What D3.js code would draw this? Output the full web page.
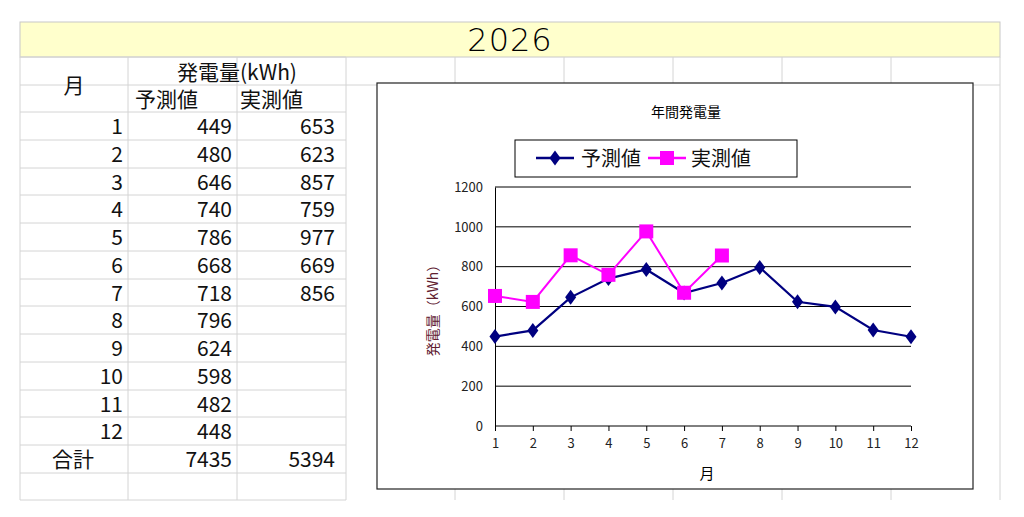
<!DOCTYPE html>
<html><head><meta charset="utf-8">
<script src="https://cdn.jsdelivr.net/npm/d3@7"></script>
<style>body{margin:0;background:#fff}svg{display:block}</style>
</head><body><svg id="c" width="1024" height="517"></svg>
<script>
const months = [1,2,3,4,5,6,7,8,9,10,11,12];
const forecast = [449,480,646,740,786,668,718,796,624,598,482,448];
const actual = [653,623,857,759,977,669,856];
const yTicks = [0,200,400,600,800,1000,1200];
const totalForecast = 7435, totalActual = 5394;
const svg = d3.select("#c");
const F = "'Noto Sans CJK JP','Noto Sans',sans-serif";
const colX = [20,128,237,346,455,564,673,782,891,1000];
const rowY = [57,85,112,140,168,195,223,251,279,306,334,362,390,417,445,473,500];
svg.append("rect").attr("x",20).attr("y",22).attr("width",980).attr("height",35).attr("fill","#ffffcc").attr("stroke","#c8c8c8");
svg.append("text").attr("x",510).attr("y",51).attr("text-anchor","middle").attr("font-family","'DejaVu Sans',sans-serif").attr("font-weight",300).attr("font-size",32).attr("letter-spacing",1).text("2026");
const g = svg.append("g").attr("stroke","#d4d4d4").attr("stroke-width",1);
colX.forEach(x=>g.append("line").attr("x1",x).attr("x2",x).attr("y1",57).attr("y2",500));
rowY.forEach(y=>g.append("line").attr("x1",20).attr("x2",346).attr("y1",y).attr("y2",y));
g.append("line").attr("x1",346).attr("x2",1000).attr("y1",85).attr("y2",85);
const T=(x,y,t,a,s)=>svg.append("text").attr("x",x).attr("y",y).attr("text-anchor",a||"end").attr("font-family",F).attr("font-size",s||21).attr("fill","#111").text(t);
T(74,93,"月","middle");
T(237,80,"発電量(kWh)","middle");
T(135,107,"予測値","start");
T(240,107,"実測値","start");
months.forEach((m,i)=>{
  const y=(rowY[i+2]+rowY[i+3])/2+8;
  T(123,y,m); T(232,y,forecast[i]);
  if(i<actual.length) T(335,y,actual[i]);
});
T(52,467,"合計","start"); T(232,467,totalForecast); T(335,467,totalActual);
svg.append("rect").attr("x",377).attr("y",83).attr("width",596).attr("height",406).attr("fill","#fff").attr("stroke","#222").attr("stroke-width",1.2);
svg.append("text").attr("x",686).attr("y",117).attr("text-anchor","middle").attr("font-family",F).attr("font-size",14).text("年間発電量");
const x = d3.scalePoint().domain(months).range([495,911]);
const y = d3.scaleLinear().domain([0,1200]).range([426,187]);
const grid = svg.append("g");
yTicks.forEach(t=>grid.append("line").attr("x1",495).attr("x2",911).attr("y1",y(t)).attr("y2",y(t)).attr("stroke","#000"));
svg.append("g").attr("transform","translate(495,0)").call(d3.axisLeft(y).tickValues(yTicks).tickFormat(d3.format("d")).tickSize(0).tickPadding(12))
 .call(a=>{a.select(".domain").attr("stroke","#000");a.selectAll("text").attr("font-family",F).attr("font-size",13).attr("fill","#222");});
svg.append("g").attr("transform","translate(0,426)").call(d3.axisBottom(x).tickSize(5).tickSizeOuter(0).tickPadding(8))
 .call(a=>{a.select(".domain").remove();a.selectAll("line").attr("stroke","#000");a.selectAll("text").attr("font-family",F).attr("font-size",13).attr("fill","#222");});
svg.append("text").attr("x",707).attr("y",479).attr("text-anchor","middle").attr("font-family",F).attr("font-size",15).text("月");
svg.append("text").attr("transform","translate(438,307) rotate(-90)").attr("text-anchor","middle").attr("font-family",F).attr("font-size",14).attr("fill","#602030").text("発電量（kWh）");
const line=d3.line().x((d,i)=>x(months[i])).y(d=>y(d));
svg.append("path").attr("d",line(forecast)).attr("fill","none").attr("stroke","#000080").attr("stroke-width",2.2);
svg.append("path").attr("d",line(actual)).attr("fill","none").attr("stroke","#ff00ff").attr("stroke-width",2);
const diamond=d3.symbol().type(d3.symbolDiamond).size(80);
forecast.forEach((v,i)=>svg.append("path").attr("d",diamond()).attr("transform",`translate(${x(months[i])},${y(v)}) scale(1.15,0.9)`).attr("fill","#000080"));
actual.forEach((v,i)=>svg.append("rect").attr("x",x(months[i])-7).attr("y",y(v)-7).attr("width",14).attr("height",14).attr("fill","#ff00ff"));
svg.append("rect").attr("x",515).attr("y",140).attr("width",282).attr("height",37).attr("fill","#fff").attr("stroke","#000");
svg.append("line").attr("x1",536).attr("x2",574).attr("y1",158).attr("y2",158).attr("stroke","#000080").attr("stroke-width",2.5);
svg.append("path").attr("d",diamond()).attr("transform","translate(555,158) scale(1.15,0.9)").attr("fill","#000080");
T(581,166,"予測値","start",20);
svg.append("line").attr("x1",648).attr("x2",686).attr("y1",158).attr("y2",158).attr("stroke","#ff00ff").attr("stroke-width",2.5);
svg.append("rect").attr("x",660).attr("y",151).attr("width",14).attr("height",14).attr("fill","#ff00ff");
T(691,166,"実測値","start",20);
</script></body></html>
